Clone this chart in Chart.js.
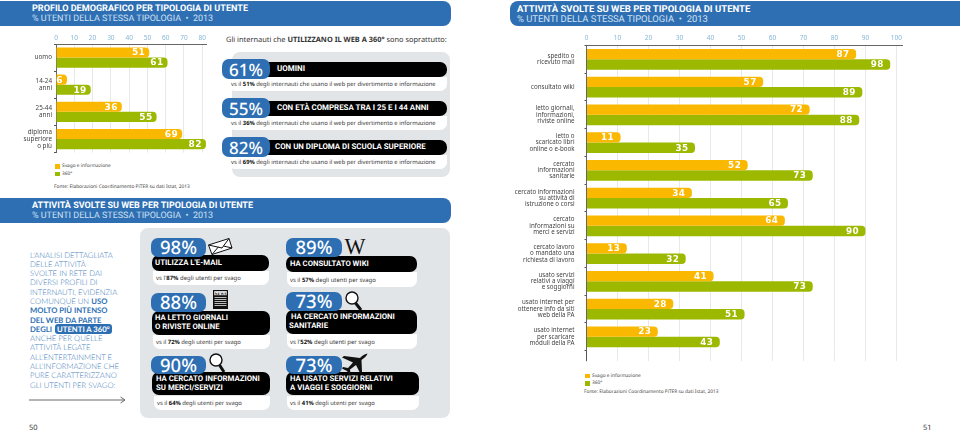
<!DOCTYPE html>
<html>
<head>
<meta charset="utf-8">
<script src="https://cdn.jsdelivr.net/npm/chart.js@4/dist/chart.umd.min.js"></script>
<style>
  html, body { margin: 0; padding: 0; background: #fff; }
  body { position: relative; width: 960px; height: 432px; overflow: hidden; font-family: "Noto Sans", sans-serif; color: #333; text-rendering: geometricPrecision; }
  .abs { position: absolute; white-space: nowrap; }
  .head { background: #2e6fb4; color: #fff; box-sizing: border-box; }
  .head b { position: absolute; top: 2.5px; font-size: 9.7px; line-height: 11px; font-family: Roboto, sans-serif; }
  .head span { position: absolute; top: 12.5px; font-size: 9.7px; line-height: 11px; font-family: Roboto, sans-serif; color: #cfe0f1; }
  .panel { background: #e2e5e8; border-radius: 8px; }
  .pill { background: #2e6fb4; color: #fff; border-radius: 7px; font-size: 18.5px; font-weight: 500; text-align: center; display: flex; align-items: center; justify-content: center; }
  .bar { background: #000; color: #fff; border-radius: 7px; font-family: Roboto, sans-serif; font-weight: 700; font-size: 8px; line-height: 8.6px; display: flex; align-items: center; box-sizing: border-box; }
  .strip { background: #fff; border-radius: 0 0 7px 7px; font-size: 6px; display: flex; align-items: center; box-sizing: border-box; color: #333; }
  .strip b { color: #111; }
  .legend-row { font-size: 4.8px; color: #444; }
  .legend-row i { position: absolute; left: 0; top: 1px; width: 4.5px; height: 4.5px; }
  .legend-row span { position: absolute; left: 7px; top: 0; }
  .fonte { font-size: 5px; color: #444; width: auto !important; }
  #intro { left: 30px; top: 250.5px; font-size: 7.8px; line-height: 9.3px; color: #3d7ab8; font-family: Lato, sans-serif; font-weight: 300; }
  #intro b { color: #2e6fb4; font-weight: 700; }
  #intro em { font-style: normal; font-weight: 700; background: #2e6fb4; color: #fff; border-radius: 3px; padding: 0 2px; margin-left: 1px; }
  canvas { position: absolute; }
</style>
</head>
<body>

<div id="page"></div>

<canvas id="profileChart" style="left:0;top:28px;width:208px;height:130px" width="208" height="130"></canvas>
<canvas id="activityChart" style="left:510px;top:26px;width:395px;height:341px" width="395" height="341"></canvas>

<script>
// --- dati grafico sinistra ---
const profileCategories = ['uomo', ['14-24', 'anni'], ['25-44', 'anni'], ['diploma', 'superiore', 'o più']];
const profileSvago = [51, 6, 36, 69];
const profile360 = [61, 19, 55, 82];

// --- dati grafico destra ---
const activityCategories = [
  ['spedito o', 'ricevuto mail'],
  'consultato wiki',
  ['letto giornali,', 'informazioni,', 'riviste online'],
  ['letto o', 'scaricato libri', 'online o e-book'],
  ['cercato', 'informazioni', 'sanitarie'],
  ['cercato informazioni', 'su attività di', 'istruzione o corsi'],
  ['cercato', 'informazioni su', 'merci e servizi'],
  ['cercato lavoro', 'o mandato una', 'richiesta di lavoro'],
  ['usato servizi', 'relativi a viaggi', 'e soggiorni'],
  ['usato internet per', 'ottenere info da siti', 'web della PA'],
  ['usato internet', 'per scaricare', 'moduli della PA']
];
const activitySvago = [87, 57, 72, 11, 52, 34, 64, 13, 41, 28, 23];
const activity360 = [98, 89, 88, 35, 73, 65, 90, 32, 73, 51, 43];

const seriesNames = ['Svago e informazione', '360°'];
const ORANGE = '#fbb800';
const GREEN = '#9cb900';

// --- pagina: riquadri e testi ---
const page = document.getElementById('page');

function box(cls, x1, y1, x2, y2, html, style) {
  const d = document.createElement('div');
  d.className = 'abs ' + cls;
  d.style.cssText = `left:${x1}px;top:${y1}px;width:${x2 - x1}px;height:${y2 - y1}px;` + (style || '');
  d.innerHTML = html || '';
  page.appendChild(d);
  return d;
}

function fit(el, target) {
  const size = parseFloat(getComputedStyle(el).fontSize);
  el.style.fontSize = (size * target / el.getBoundingClientRect().width) + 'px';
}

function header(x1, y1, x2, y2, radius, title, titleWidth, subWidth) {
  const left = x1 === 0 ? 32 : 7;
  const d = box('head', x1, y1, x2, y2,
    `<b style="left:${left}px">${title}</b><span style="left:${left}px">% UTENTI DELLA STESSA TIPOLOGIA &nbsp;•&nbsp; 2013</span>`,
    `border-radius:${radius};`);
  fit(d.querySelector('b'), titleWidth);
  fit(d.querySelector('span'), subWidth);
}

header(0, 1, 451, 26, '0 8px 8px 0', 'PROFILO DEMOGRAFICO PER TIPOLOGIA DI UTENTE', 216, 181);
header(0, 198, 451, 223, '0 8px 8px 0', 'ATTIVITÀ SVOLTE SU WEB PER TIPOLOGIA DI UTENTE', 221, 181);
header(510, 1, 960, 26, '8px 0 0 8px', 'ATTIVITÀ SVOLTE SU WEB PER TIPOLOGIA DI UTENTE', 233, 191);

const lead = box('', 226, 34, 450, 46, '<span>Gli internauti che <b>UTILIZZANO IL WEB A 360°</b> sono soprattutto:</span>', 'font-size:7.4px;line-height:12px;color:#333;');
fit(lead.firstChild, 221);

box('panel', 232, 52, 450, 177);
box('panel', 140, 228, 450, 418);

function card(pill, bar, strip, pct, title, sub, barPad, titleWidth, subWidth, pctSize) {
  const s = box('strip', strip[0], strip[1], strip[2], strip[3], `<div>${sub}</div>`, 'padding-left:3px;');
  fit(s.firstChild, subWidth);
  const b = box('bar', bar[0], bar[1], bar[2], bar[3], `<div>${title}</div>`, `padding-left:${barPad}px;`);
  fit(b.firstChild, titleWidth);
  box('pill', pill[0], pill[1], pill[2], pill[3], pct, `font-size:${pctSize}px;`);
}

const internautiSub = ' degli internauti che usano il web per divertimento e informazione';
card([222, 59, 270, 79], [250, 62, 447, 77], [228, 77, 447, 91], '61%', 'UOMINI', 'vs il <b>51%</b>' + internautiSub, 27, 28, 205, 17);
card([222, 98, 270, 118], [250, 101, 447, 116], [228, 116, 447, 130], '55%', 'CON ETÀ COMPRESA TRA I 25 E I 44 ANNI', 'vs il <b>36%</b>' + internautiSub, 27, 152, 205, 17);
card([222, 137, 270, 157], [250, 140, 447, 155], [228, 155, 447, 169], '82%', 'CON UN DIPLOMA DI SCUOLA SUPERIORE', 'vs il <b>69%</b>' + internautiSub, 25, 151, 205, 17);

card([151, 238, 206, 257], [152, 255, 269, 271], [153, 271, 269, 285], '98%', 'UTILIZZA L\'E-MAIL', 'vs l\'<b>87%</b> degli utenti per svago', 3, 67, 85, 18.5);
card([151, 293, 206, 312], [152, 311, 270, 335], [153, 335, 270, 349], '88%', 'HA LETTO GIORNALI<br>O RIVISTE ONLINE', 'vs il <b>72%</b> degli utenti per svago', 3, 73, 85, 18.5);
card([151, 356, 206, 374], [152, 372, 270, 395], [154, 396, 270, 410], '90%', 'HA CERCATO INFORMAZIONI<br>SU MERCI/SERVIZI', 'vs il <b>64%</b> degli utenti per svago', 4, 104, 85, 18.5);

card([286, 238, 342, 257], [286, 256, 417, 272], [287, 272, 417, 287], '89%', 'HA CONSULTATO WIKI', 'vs il <b>57%</b> degli utenti per svago', 4, 79, 86, 18.5);
card([286, 292, 342, 311], [286, 310, 417, 334], [287, 334, 417, 349], '73%', '&nbsp;HA CERCATO INFORMAZIONI<br>SANITARIE', 'vs l\'<b>52%</b> degli utenti per svago', 3, 106, 85, 18.5);
card([286, 356, 342, 374], [286, 372, 419, 395], [287, 396, 419, 410], '73%', 'HA USATO SERVIZI RELATIVI<br>A VIAGGI E SOGGIORNI', 'vs il <b>41%</b> degli utenti per svago', 4, 103, 85, 18.5);

// icone
const icons = document.createElementNS('http://www.w3.org/2000/svg', 'svg');
icons.setAttribute('width', 960);
icons.setAttribute('height', 432);
icons.style.cssText = 'position:absolute;left:0;top:0;';
icons.innerHTML = `
  <g stroke="#111" stroke-width="1" fill="#fff">
    <path d="M208.5 245 L229 238.5 L232 248 L212 254.5 Z"/>
    <path d="M208.5 245 L222 248 L229 238.5 M212 254.5 L218.5 246.8 M232 248 L223.5 246" fill="none"/>
  </g>
  <g>
    <rect x="213" y="290" width="15" height="19" fill="#111"/>
    <rect x="214.2" y="291.2" width="12.6" height="4" fill="#fff"/>
    <text x="220.5" y="294.8" font-size="4" font-weight="700" text-anchor="middle" font-family="Liberation Serif">NEWS</text>
    <path d="M214.5 297.5 H226.5 M214.5 299.5 H226.5 M214.5 301.5 H226.5 M214.5 303.5 H226.5 M214.5 305.5 H226.5" stroke="#bbb" stroke-width="1"/>
  </g>
  <g fill="#fff" stroke="#111">
    <circle cx="216" cy="360" r="6" stroke-width="1.4"/>
    <path d="M219.5 365 L224 372" stroke-width="3" fill="none"/>
    <circle cx="352" cy="298" r="6" stroke-width="1.4"/>
    <path d="M355.5 303 L361 310" stroke-width="3" fill="none"/>
  </g>
  <text x="355" y="254" font-family="Liberation Serif" font-size="23" text-anchor="middle" fill="#111" textLength="21" lengthAdjust="spacingAndGlyphs">W</text>
  <path d="M367.5 353.5 C364 354 362 356 360 358 L344 356 L342 357.5 L353 362.5 L348 368 L343 367 L342 368.5 L347 371 L349 375 L350.5 374 L350 369.5 L356 365 L360 373 L362 372 L361.5 360 C364 358 367 356 367.5 353.5 Z" fill="#111"/>
  <path d="M29 400 H124 M120.5 397 L125 400 L120.5 403" fill="none" stroke="#444" stroke-width=".8"/>
`;
page.appendChild(icons);

const intro = document.createElement('div');
intro.id = 'intro';
intro.className = 'abs';
intro.innerHTML = [
  "L'ANALISI DETTAGLIATA", 'DELLE ATTIVITÀ', 'SVOLTE IN RETE DAI', 'DIVERSI PROFILI DI', 'INTERNAUTI, EVIDENZIA',
  'COMUNQUE UN <b>USO</b>', '<b>MOLTO PIÙ INTENSO</b>', '<b>DEL WEB DA PARTE</b>', '<b>DEGLI</b> <em>UTENTI A 360°</em>',
  'ANCHE PER QUELLE', 'ATTIVITÀ LEGATE', "ALL'ENTERTAINMENT E", "ALL'INFORMAZIONE CHE", 'PURE CARATTERIZZANO', 'GLI UTENTI PER SVAGO:'
].join('<br>');
page.appendChild(intro);
fit(intro, 89);

fit(box('fonte', 54, 184, 200, 192, 'Fonte: Elaborazioni Coordinamento PiTER su dati Istat, 2013'), 136);
fit(box('fonte', 584, 389, 730, 397, 'Fonte: Elaborazioni Coordinamento PiTER su dati Istat, 2013'), 135);
box('', 29, 423, 45, 435, '50', 'font-size:7.5px;color:#333;');
box('', 923, 423, 940, 435, '51', 'font-size:7.5px;color:#333;');

function legend(x, y, gap) {
  seriesNames.forEach((name, i) => {
    box('legend-row', x, y + i * gap, x + 80, y + i * gap + 7,
      `<i style="background:${i === 0 ? ORANGE : GREEN}"></i><span>${name}</span>`);
  });
}
legend(55, 163, 7.5);
legend(585, 372.5, 7.5);

// --- valori bianchi dentro le barre ---
const valueLabels = {
  id: 'valueLabels',
  afterDatasetsDraw(chart, args, opts) {
    const ctx = chart.ctx;
    ctx.save();
    ctx.fillStyle = '#fff';
    ctx.font = opts.font;
    ctx.letterSpacing = '0.4px';
    ctx.textAlign = 'right';
    ctx.textBaseline = 'middle';
    chart.data.datasets.forEach((ds, d) => {
      chart.getDatasetMeta(d).data.forEach((bar, i) => {
        ctx.fillText(ds.data[i], bar.x - opts.inset, bar.y + 0.5);
      });
    });
    ctx.restore();
  }
};

// griglia e asse che continuano sotto l'ultima barra
const axisTail = {
  id: 'axisTail',
  beforeDatasetsDraw(chart, args, opts) {
    if (!opts.length) return;
    const { ctx, chartArea, scales } = chart;
    ctx.save();
    ctx.lineWidth = 1;
    scales.x.ticks.forEach(t => {
      const px = scales.x.getPixelForValue(t.value);
      ctx.strokeStyle = t.value === 0 ? '#555' : '#e6e9ec';
      ctx.beginPath();
      ctx.moveTo(px, chartArea.bottom);
      ctx.lineTo(px, chartArea.bottom + opts.length);
      ctx.stroke();
    });
    ctx.restore();
  }
};

function drawBars(id, cfg) {
  return new Chart(document.getElementById(id), {
    type: 'bar',
    plugins: [valueLabels, axisTail],
    data: {
      labels: cfg.labels,
      datasets: [
        { label: seriesNames[0], data: cfg.svago, backgroundColor: ORANGE },
        { label: seriesNames[1], data: cfg.web360, backgroundColor: GREEN }
      ]
    },
    options: {
      indexAxis: 'y',
      responsive: false,
      animation: false,
      devicePixelRatio: 1,
      layout: { padding: { bottom: cfg.tail } },
      datasets: {
        bar: {
          categoryPercentage: 0.745,
          barPercentage: 1,
          borderRadius: { topRight: 4, bottomRight: 4 },
          borderSkipped: false
        }
      },
      plugins: {
        legend: { display: false },
        tooltip: { enabled: false },
        valueLabels: { font: cfg.valueFont, inset: cfg.inset },
        axisTail: { length: cfg.tail }
      },
      scales: {
        x: {
          position: 'top',
          min: 0,
          max: cfg.max,
          afterFit: s => { s.height = 16; },
          afterBuildTicks: s => { s.ticks = s.ticks.filter(t => t.value % 10 === 0); },
          border: { color: '#666', width: 1 },
          grid: { color: '#e6e9ec', drawTicks: false, lineWidth: 1 },
          ticks: {
            stepSize: 10,
            includeBounds: false,
            autoSkip: false,
            maxRotation: 0,
            padding: cfg.tickPad,
            color: '#86b6d4',
            font: { family: 'Noto Sans', size: 6.5 }
          }
        },
        y: {
          afterFit: s => { s.width = cfg.axisWidth; },
          border: { color: '#666', width: 1 },
          grid: { drawOnChartArea: false, color: '#555', tickLength: 2 },
          ticks: {
            autoSkip: false,
            padding: cfg.labelPad,
            color: '#444',
            font: { family: 'Noto Sans', size: cfg.labelSize, lineHeight: cfg.labelLine }
          }
        }
      }
    }
  });
}

drawBars('profileChart', {
  labels: profileCategories, svago: profileSvago, web360: profile360,
  max: 82.5, axisWidth: 56, labelPad: 2, labelSize: 6.3, labelLine: 1.08, tickPad: 2,
  tail: 0, inset: 4, valueFont: 'bold 9px "DejaVu Sans"'
});
drawBars('activityChart', {
  labels: activityCategories, svago: activitySvago, web360: activity360,
  max: 102, axisWidth: 76.5, labelPad: 10, labelSize: 6.2, labelLine: 1.02, tickPad: 3,
  tail: 10.5, inset: 6.5, valueFont: 'bold 8.8px "DejaVu Sans"'
});
</script>
</body>
</html>
